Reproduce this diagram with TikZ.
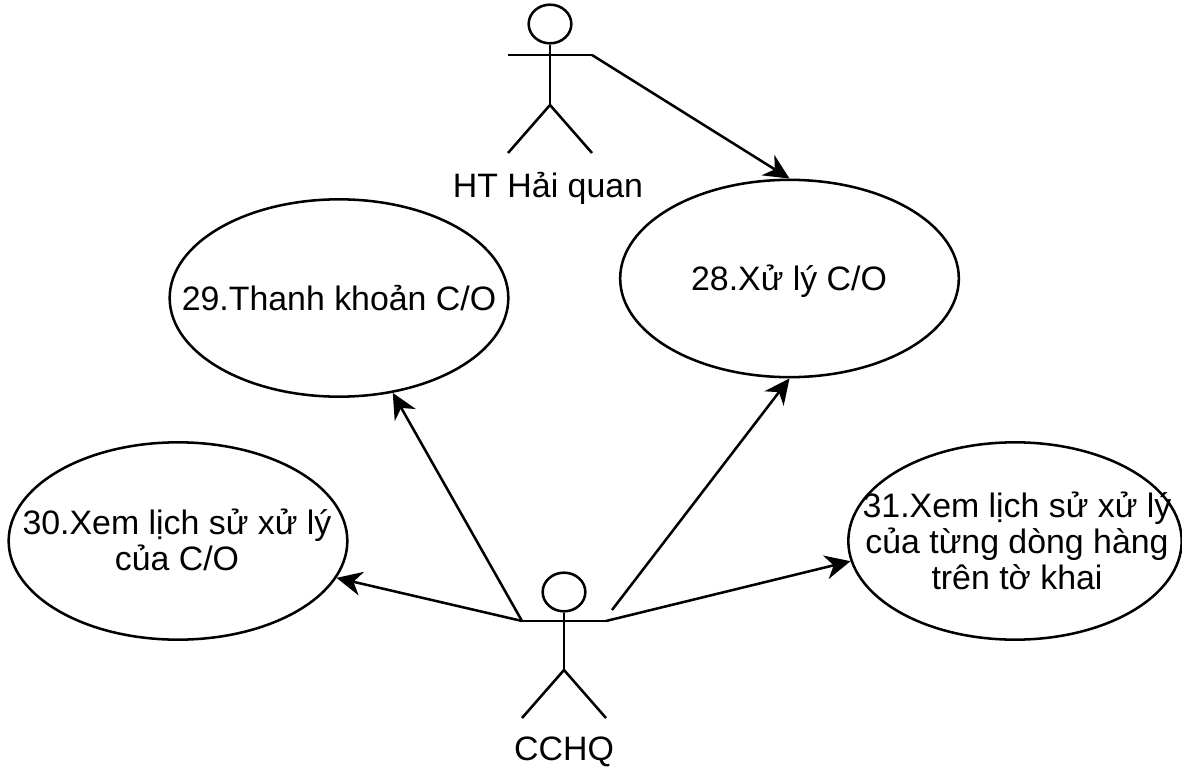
\documentclass[tikz,border=0pt]{standalone}
\usepackage{fontspec}
\setmainfont{Liberation Sans}
\usetikzlibrary{shapes.geometric,arrows.meta}
\tikzset{
  usecase/.style={draw,ellipse,inner sep=0pt,minimum width=254pt,minimum height=148pt},
  casetext/.style={font=\fontsize{25.4}{27.2}\selectfont,align=center,inner sep=0pt},
  actorhead/.style={draw,ellipse,inner sep=0pt,minimum width=32pt,minimum height=29pt},
  actorname/.style={font=\fontsize{25.4}{27.2}\selectfont,inner sep=0pt},
  link/.style={-{Stealth[length=19pt,width=18pt,inset=6pt]}},
}
\begin{document}
\begin{tikzpicture}[x=0.75pt,y=-0.75pt,line width=1.9pt]
\useasboundingbox (0,0) rectangle (1182,770);
%the use cases
\node[usecase] (xuly) at (789.5,278.5) {};
\node[usecase] (thanhkhoan) at (339,298) {};
\node[usecase] (lichsu) at (178,541) {};
\node[usecase,minimum width=250pt] (dong) at (1015,541) {};
\node[casetext] (xulytext) at (789,281) {28.Xử lý C/O};
\node[casetext] (thanhkhoantext) at (thanhkhoan) {29.Thanh khoản C/O};
\node[casetext] (lichsutext) at (177,540) {30.Xem lịch sử xử lý\\của C/O};
\node[casetext] (dongtext) at (1017,541) {31.Xem lịch sử xử lý\\của từng dòng hàng\\trên tờ khai};
%the actor above
\node[actorhead] (hqhead) at (550,24) {};
\coordinate (hqleft) at (508,55);
\coordinate (hqright) at (592,55);
\coordinate (hqhip) at (550,105);
\coordinate (hqfootl) at (508,153);
\coordinate (hqfootr) at (592,153);
\draw (hqleft) -- (hqright);
\draw (hqhead) -- (hqhip);
\draw (hqfootl) -- (hqhip) -- (hqfootr);
\node[actorname] (hqname) at (548,188) {HT Hải quan};
%the actor below
\node[actorhead] (cchqhead) at (564,592) {};
\coordinate (cchqleft) at (522,621);
\coordinate (cchqright) at (606,621);
\coordinate (cchqhip) at (564,670);
\coordinate (cchqfootl) at (522,718);
\coordinate (cchqfootr) at (606,718);
\coordinate (cchqarm) at (612,610);
\draw (cchqleft) -- (cchqright);
\draw (cchqhead) -- (cchqhip);
\draw (cchqfootl) -- (cchqhip) -- (cchqfootr);
\node[actorname] (cchqname) at (564,752) {CCHQ};
%the links
\draw[link] (hqright) -- (xuly.north);
\draw[link] (cchqleft) -- (thanhkhoan);
\draw[link] (cchqleft) -- (lichsu);
\draw[link] (cchqarm) -- (xuly.south);
\draw[link] (cchqright) -- (dong.187.4);
\end{tikzpicture}
\end{document}
